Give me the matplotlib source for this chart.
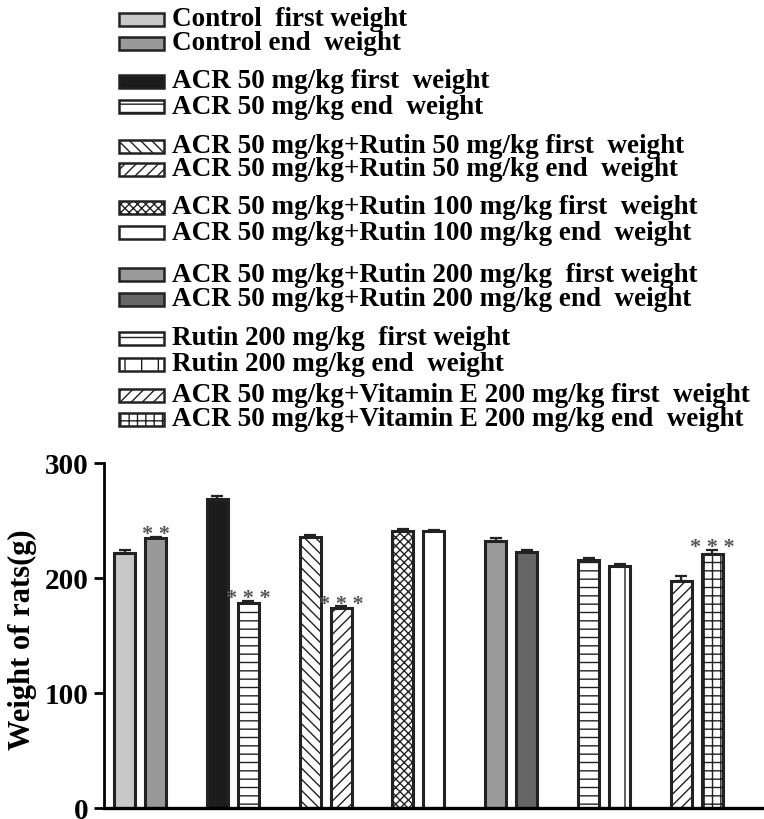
import matplotlib.pyplot as plt
from matplotlib.patches import Rectangle
import numpy as np

# Group names and mean body weights (g)
groups = ["Control", "ACR 50 mg/kg", "ACR 50 mg/kg+Rutin 50 mg/kg",
          "ACR 50 mg/kg+Rutin 100 mg/kg", "ACR 50 mg/kg+Rutin 200 mg/kg",
          "Rutin 200 mg/kg", "ACR 50 mg/kg+Vitamin E 200 mg/kg"]
first_weight = [222, 269, 236, 241, 232, 216, 197]
end_weight = [234.5, 178, 174, 240.5, 222.5, 210.5, 221]
first_err = [2, 2, 1.5, 1.5, 3, 1.5, 4.5]
end_err = [1.5, 2, 1.5, 1, 1.5, 2, 3.5]
end_stars = ["**", "***", "***", "", "", "", "***"]

legend_labels = [
    "Control  first weight",
    "Control end  weight",
    "ACR 50 mg/kg first  weight",
    "ACR 50 mg/kg end  weight",
    "ACR 50 mg/kg+Rutin 50 mg/kg first  weight",
    "ACR 50 mg/kg+Rutin 50 mg/kg end  weight",
    "ACR 50 mg/kg+Rutin 100 mg/kg first  weight",
    "ACR 50 mg/kg+Rutin 100 mg/kg end  weight",
    "ACR 50 mg/kg+Rutin 200 mg/kg  first weight",
    "ACR 50 mg/kg+Rutin 200 mg/kg end  weight",
    "Rutin 200 mg/kg  first weight",
    "Rutin 200 mg/kg end  weight",
    "ACR 50 mg/kg+Vitamin E 200 mg/kg first  weight",
    "ACR 50 mg/kg+Vitamin E 200 mg/kg end  weight",
]
# fill / hatch per series (first, end alternating)
fills = ['#c8c8c8', '#999999', '#1c1c1c', 'white', 'white', 'white', 'white',
         'white', '#9a9a9a', '#666666', 'white', 'white', 'white', 'white']
hatches = ['', '', '', '--', '\\\\\\', '///', 'xxxx', '', '', '', '--', '|', '///', '++']

plt.rcParams['font.family'] = 'Liberation Serif'
plt.rcParams['font.weight'] = 'bold'
plt.rcParams['hatch.linewidth'] = 1.0

W, H = 764, 820
fig = plt.figure(figsize=(W / 100, H / 100), dpi=100)
ax = fig.add_axes([104 / W, 11 / H, (W - 104) / W, 345 / H])

x = np.arange(len(groups))
off = 0.167
bw = 0.226
edge = '#222222'

ax.errorbar(x - off, first_weight, yerr=[np.zeros(len(x)), first_err], fmt='none',
            ecolor=edge, elinewidth=1.6, capsize=4, capthick=1.6, zorder=1)
ax.errorbar(x + off, end_weight, yerr=[np.zeros(len(x)), end_err], fmt='none',
            ecolor=edge, elinewidth=1.6, capsize=4, capthick=1.6, zorder=1)
b1 = ax.bar(x - off, first_weight, bw, edgecolor=edge, linewidth=2.2, zorder=2)
b2 = ax.bar(x + off, end_weight, bw, edgecolor=edge, linewidth=2.2, zorder=2)
for i in range(len(groups)):
    b1[i].set_facecolor(fills[2 * i])
    b1[i].set_hatch(hatches[2 * i])
    b2[i].set_facecolor(fills[2 * i + 1])
    b2[i].set_hatch(hatches[2 * i + 1])

for i, s in enumerate(end_stars):
    if s:
        ax.text(x[i] + off, end_weight[i] + end_err[i] - 6.5, " ".join(s),
                ha='center', va='bottom', fontsize=16, color='#555555')

ax.set_xlim(-0.388, 6.724)
ax.set_ylim(0, 300)
ax.set_yticks([0, 100, 200, 300])
ax.set_xticks([])
ax.tick_params(axis='y', direction='out', length=7, width=2, labelsize=21, pad=4)
for lab in ax.get_yticklabels():
    lab.set_fontweight('bold')
ax.spines['top'].set_visible(False)
ax.spines['right'].set_visible(False)
ax.spines['left'].set_linewidth(2)
ax.spines['bottom'].set_linewidth(2.4)
ax.set_ylabel("Weight of rats(g)", fontsize=22, fontweight='bold')
ax.yaxis.set_label_coords(-0.102, 0.49)

# legend drawn as stacked rows in two-entry blocks
row_y = [20, 44, 82, 107, 147, 170, 208, 233, 275, 300, 339, 365, 396, 420]
for lab, fc, ht, yy in zip(legend_labels, fills, hatches, row_y):
    r = Rectangle((119 / W, 1 - (yy + 6.5) / H), 45 / W, 13 / H, transform=fig.transFigure,
                  facecolor=fc, edgecolor=edge, linewidth=1.8, hatch=ht)
    fig.add_artist(r)
    fig.text(172 / W, 1 - yy / H, lab, fontsize=19.5, fontweight='bold',
             va='center', ha='left')

fig.savefig('out.png', dpi=100)
